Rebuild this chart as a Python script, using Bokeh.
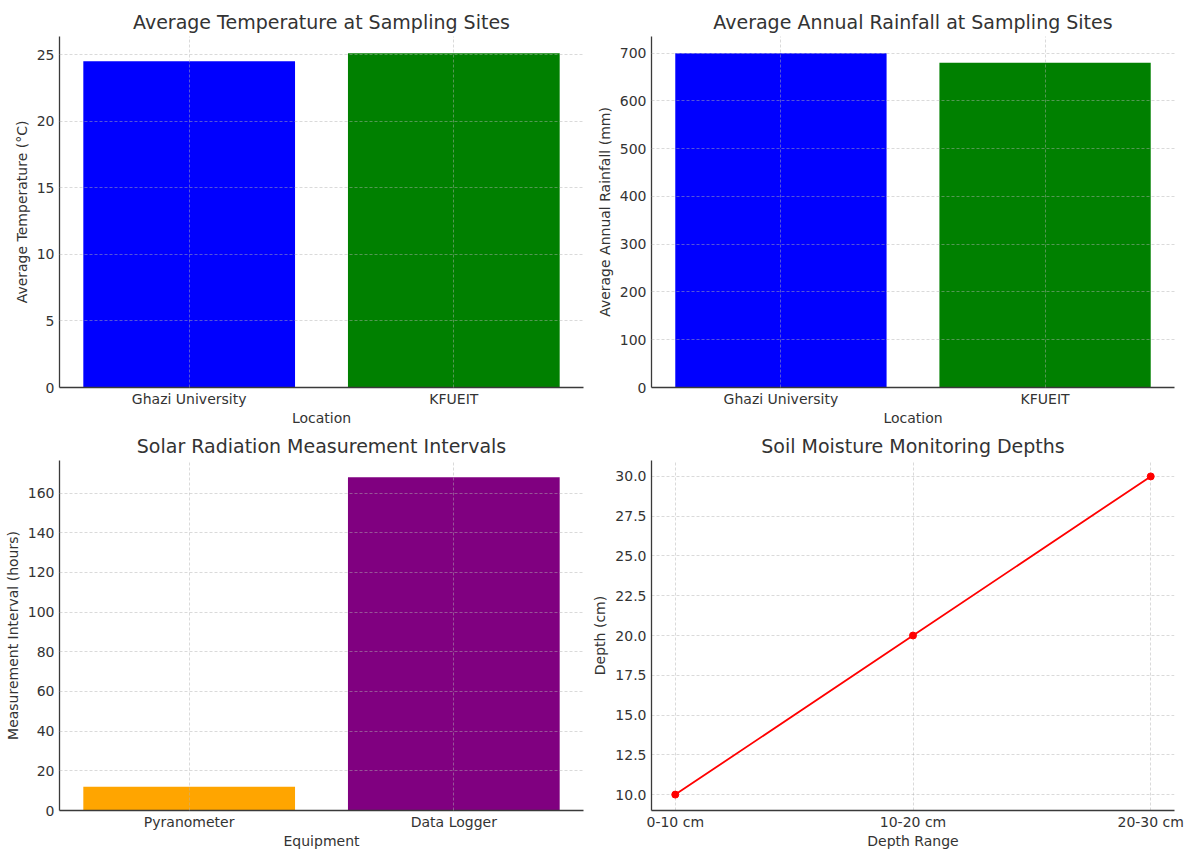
from bokeh.plotting import figure
from bokeh.models import Range1d, FixedTicker, SingleIntervalTicker, PrintfTickFormatter, ColumnDataSource
from bokeh.layouts import column, row
from bokeh.embed import file_html
from bokeh.resources import INLINE

# ---- data ----
locations = ["Ghazi University", "KFUEIT"]
avg_temperature = [24.5, 25.1]
avg_rainfall = [700, 680]
site_colors = ["blue", "green"]

equipment = ["Pyranometer", "Data Logger"]
measurement_interval = [12, 168]
equip_colors = ["orange", "purple"]

depth_ranges = ["0-10 cm", "10-20 cm", "20-30 cm"]
depths = [10, 20, 30]

FONT = "DejaVu Sans"
TXT = "#333333"


def make_fig(title, w, h, left, right, top, bottom, xr, yr):
    p = figure(width=w, height=h, output_backend="svg", toolbar_location=None,
               x_range=xr, y_range=yr,
               min_border_left=left, min_border_right=right,
               min_border_top=top, min_border_bottom=bottom)
    p.title.text = title
    p.title.align = "center"
    p.title.text_font = FONT
    p.title.text_font_size = "19px"
    p.title.text_font_style = "normal"
    p.title.text_color = TXT
    p.title.standoff = 7
    p.outline_line_color = None
    p.background_fill_color = "white"
    p.border_fill_color = "white"
    for ax in (p.xaxis[0], p.yaxis[0]):
        ax.axis_line_color = "#3a3a3a"
        ax.axis_line_width = 1.3
        ax.major_tick_in = 0
        ax.major_tick_out = 0
        ax.minor_tick_in = 0
        ax.minor_tick_out = 0
        ax.major_label_text_font = FONT
        ax.major_label_text_font_size = "14px"
        ax.major_label_text_color = TXT
        ax.axis_label_text_font = FONT
        ax.axis_label_text_font_size = "14px"
        ax.axis_label_text_font_style = "normal"
        ax.axis_label_text_color = TXT
    p.xaxis.major_label_standoff = 3
    p.xaxis.axis_label_standoff = 0
    p.yaxis.major_label_standoff = 5
    p.yaxis.axis_label_standoff = 4
    for g in (p.xgrid[0], p.ygrid[0]):
        g.grid_line_color = "#b0b0b0"
        g.grid_line_alpha = 0.6
        g.grid_line_dash = "3 2"
        g.grid_line_width = 0.8
    return p


def bar_fig(title, cats, vals, colors, xlabel, ylabel, interval, w, h, left, right, top, bottom):
    idx = list(range(len(cats)))
    ymax = max(vals) * 1.05
    p = make_fig(title, w, h, left, right, top, bottom,
                 Range1d(-0.49, len(cats) - 1 + 0.49), Range1d(0, ymax))
    src = ColumnDataSource(dict(x=idx, top=vals, color=colors, cat=cats))
    p.vbar(x="x", top="top", width=0.8, bottom=0, fill_color="color", line_color=None, source=src)
    p.xaxis.ticker = FixedTicker(ticks=idx)
    p.xaxis.major_label_overrides = {i: c for i, c in zip(idx, cats)}
    p.yaxis.ticker = SingleIntervalTicker(interval=interval)
    p.xaxis.axis_label = xlabel
    p.yaxis.axis_label = ylabel
    p.xgrid.level = "overlay"
    p.ygrid.level = "overlay"
    return p


W1, W2 = 585, 604
H1, H2 = 428, 423

p1 = bar_fig("Average Temperature at Sampling Sites", locations, avg_temperature, site_colors,
             "Location", "Average Temperature (°C)", 5, W1, H1, 59, 2, 36, 40)
p2 = bar_fig("Average Annual Rainfall at Sampling Sites", locations, avg_rainfall, site_colors,
             "Location", "Average Annual Rainfall (mm)", 100, W2, H1, 66, 15, 36, 40)
p3 = bar_fig("Solar Radiation Measurement Intervals", equipment, measurement_interval, equip_colors,
             "Equipment", "Measurement Interval (hours)", 20, W1, H2, 59, 2, 32, 39)

# line chart
idx4 = list(range(len(depth_ranges)))
ypad = (max(depths) - min(depths)) * 0.05
p4 = make_fig("Soil Moisture Monitoring Depths", W2, H2, 66, 15, 32, 39,
              Range1d(-0.1, len(depth_ranges) - 1 + 0.1),
              Range1d(min(depths) - ypad, max(depths) + ypad))
src4 = ColumnDataSource(dict(x=idx4, y=depths))
p4.line("x", "y", source=src4, line_color="red", line_width=1.8)
p4.scatter("x", "y", source=src4, size=7, fill_color="red", line_color="red")
p4.xaxis.ticker = FixedTicker(ticks=idx4)
p4.xaxis.major_label_overrides = {i: c for i, c in zip(idx4, depth_ranges)}
p4.yaxis.ticker = SingleIntervalTicker(interval=2.5)
p4.yaxis.formatter = PrintfTickFormatter(format="%.1f")
p4.xaxis.axis_label = "Depth Range"
p4.yaxis.axis_label = "Depth (cm)"

layout = column(row(p1, p2), row(p3, p4))

with open("out.html", "w") as f:
    f.write(file_html(layout, INLINE))
